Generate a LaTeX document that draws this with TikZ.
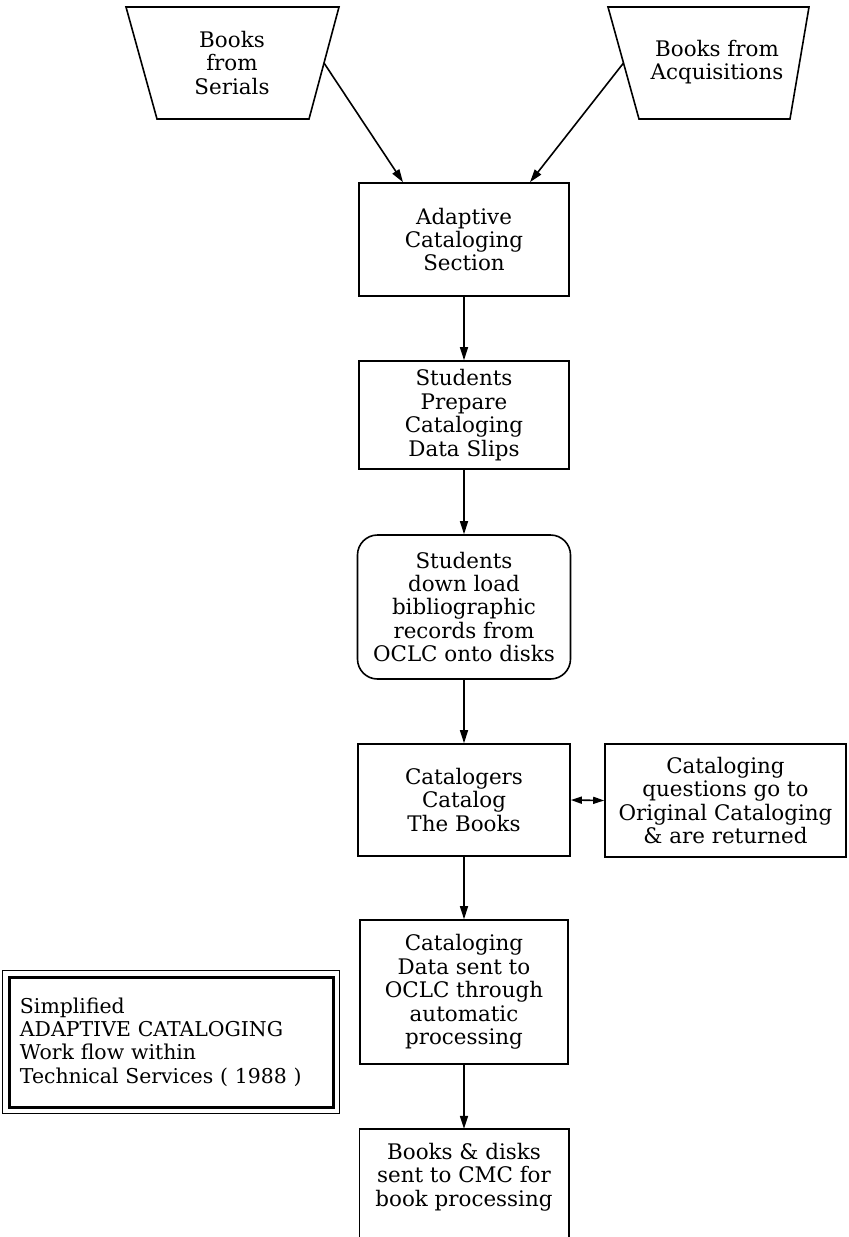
\documentclass[tikz,border=0pt]{standalone}
\usepackage{fontspec}
\setmainfont{DejaVu Serif}
\usetikzlibrary{arrows.meta,calc}

\tikzset{
  txt/.style={align=center, inner sep=0pt, font=\fontsize{21.5}{23.5}\selectfont},
  stepbox/.style={txt, draw, line width=1.6bp, minimum width=210bp},
  roundbox/.style={stepbox, rounded corners=20bp},
  arr/.style={line width=1.6bp, -{Triangle[length=13bp,width=8bp]}},
  dblarr/.style={line width=1.6bp, {Triangle[length=11bp,width=7bp]}-{Triangle[length=11bp,width=7bp]}},
  frame/.style={line width=1.6bp, line join=miter}
}

\begin{document}
\begin{tikzpicture}[x=1bp,y=-1bp]
\useasboundingbox (0,0) rectangle (849,1237);
\clip (0,0) rectangle (849,1237);

% source trapezoids
\draw[frame] (126,7) -- (339,7) -- (309,119) -- (157,119) -- cycle;
\node[txt] (serials) at (232,63) {Books\\from\\Serials};
\coordinate (serialsOut) at (324,63);

\draw[frame] (608,7) -- (809,7) -- (790,119) -- (639,119) -- cycle;
\node[txt] (acq) at (717,62) {Books from\\Acquisitions};
\coordinate (acqOut) at (623.5,63);

% main column
\node[stepbox, minimum height=113bp] (adapt) at (464,239.5) {Adaptive\\Cataloging\\Section};
\node[stepbox, minimum height=108bp] (slips) at (464,415) {Students\\Prepare\\Cataloging\\Data Slips};
\node[roundbox, minimum width=213bp, minimum height=144bp] (download) at (464,607)
  {Students\\down load\\bibliographic\\records from\\OCLC onto disks};
\node[stepbox, minimum width=212bp, minimum height=112bp] (catalog) at (464,800) {Catalogers\\Catalog\\The Books};
\node[stepbox, minimum width=241bp, minimum height=113bp] (questions) at (725.5,800.5)
  {Cataloging\\questions go to\\Original Cataloging\\\& are returned};
\node[stepbox, minimum width=208bp, minimum height=144bp] (oclc) at (464,992)
  {Cataloging\\Data sent to\\OCLC through\\automatic\\processing};
\node[txt, minimum width=209bp, minimum height=96bp] (cmc) at (464,1177)
  {Books \& disks\\sent to CMC for\\book processing};
\coordinate (pagebottom) at (0,1245);
\draw[frame] (cmc.north west |- pagebottom) -- (cmc.north west) -- (cmc.north east) -- (cmc.north east |- pagebottom);

% legend
\node[txt, font=\fontsize{20.5}{23.5}\selectfont, align=left, draw, line width=3bp,
      minimum width=323bp, minimum height=130bp, text width=303bp]
  (legend) at (171.5,1042)
  {Simplified\\ADAPTIVE CATALOGING\\Work flow within\\Technical Services ( 1988 )};
\draw[frame] ([shift={(-6,-5)}]legend.north west) rectangle ([shift={(5,5)}]legend.south east);

% connectors
\draw[arr] (serialsOut) -- ([xshift=-61bp]adapt.north);
\draw[arr] (acqOut) -- ([xshift=66bp]adapt.north);
\draw[arr] (adapt) -- (slips);
\draw[arr] (slips) -- (download);
\draw[arr] (download) -- (catalog);
\draw[dblarr] (catalog.east) -- (questions.west);
\draw[arr] (catalog) -- (oclc);
\draw[arr] (oclc.south) -- (cmc.north);
\end{tikzpicture}
\end{document}
